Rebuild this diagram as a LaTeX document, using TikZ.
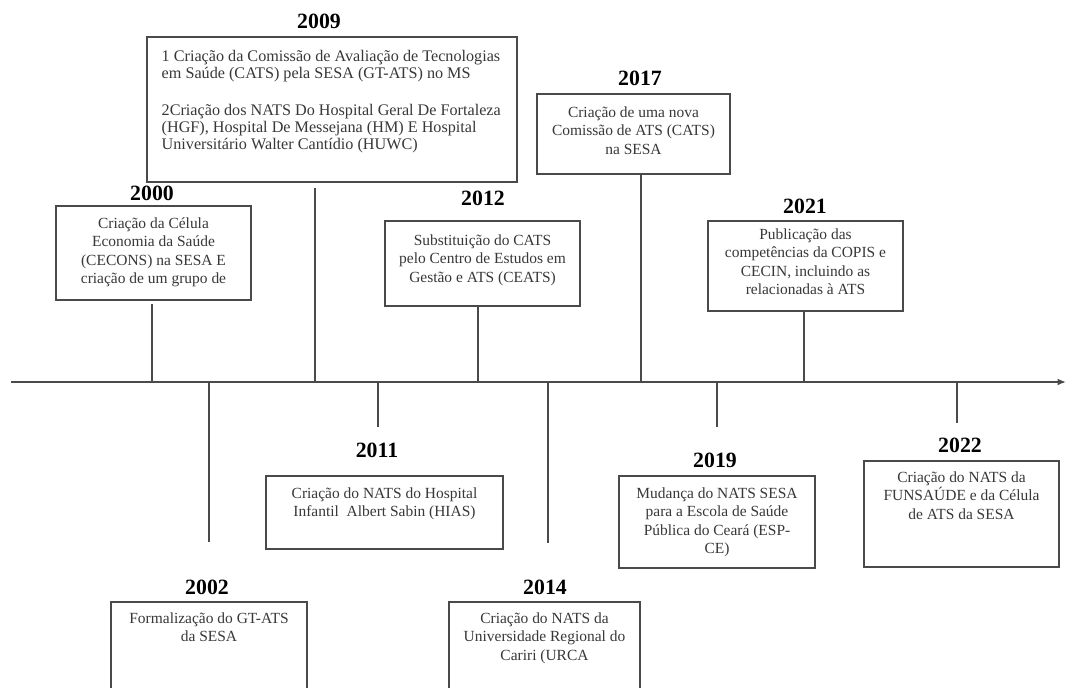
\documentclass[tikz,border=0pt]{standalone}
\usepackage{fontspec}
\setmainfont{Liberation Serif}
\usetikzlibrary{positioning,arrows.meta}

\definecolor{traco}{HTML}{4A4A4A}
\definecolor{letra}{HTML}{383838}
\newcommand\pxu{0.025cm}

\tikzset{caixa/.style={draw=traco,line width=0.8pt,fill=white},
texto/.style={font=\fontsize{11}{13}\selectfont,text=letra,align=#1,inner sep=0pt},
texto/.default={center},
ano/.style={font=\fontsize{15.5}{18}\selectfont\bfseries,inner sep=0pt},
haste/.style={draw=traco,line width=0.8pt},
eixo/.style={draw=traco,line width=1.5pt,-{Latex[length=6pt,width=5pt]}}}

\begin{document}
\begin{tikzpicture}[x=\pxu,y=-\pxu]
\useasboundingbox (0,0) rectangle (1067,688);
\clip (0,0) rectangle (1067,688);

\coordinate (inicio) at (11,382);
\coordinate (fim) at (1066,382);
\draw[eixo] (inicio) -- (fim);

% acima do eixo
\node[caixa, minimum width=195*\pxu, minimum height=94*\pxu] (c2000) at (153.5,253) {};
\node[ano] (a2000) at (152,193) {2000};
\node[texto, below=12*\pxu of c2000.north] (t2000) {Criação da Célula\\Economia da Saúde\\(CECONS) na SESA E\\criação de um grupo de};
\coordinate (h2000) at (152,304);
\draw[haste] (h2000) -- (h2000 |- inicio);

\node[caixa, minimum width=370*\pxu, minimum height=145*\pxu] (c2009) at (332,109.5) {};
\node[ano] (a2009) at (319,21) {2009};
\node[texto=left, font=\fontsize{11.5}{12}\selectfont, below right=14*\pxu and 15*\pxu of c2009.north west] (t2009) {1 Criação da Comissão de Avaliação de Tecnologias\\em Saúde (CATS) pela SESA (GT-ATS) no MS\\[14pt]
	2Criação dos NATS Do Hospital Geral De Fortaleza\\(HGF), Hospital De Messejana (HM) E Hospital\\Universitário Walter Cantídio (HUWC)};
\coordinate (h2009) at (315,188);
\draw[haste] (h2009) -- (h2009 |- inicio);

\node[caixa, minimum width=195*\pxu, minimum height=85*\pxu] (c2012) at (482.5,263.5) {};
\node[ano] (a2012) at (483,198) {2012};
\node[texto, below=14*\pxu of c2012.north] (t2012) {Substituição do CATS\\pelo Centro de Estudos em\\Gestão e ATS (CEATS)};
\coordinate (h2012) at (478,306);
\draw[haste] (h2012) -- (h2012 |- inicio);

\node[caixa, minimum width=193*\pxu, minimum height=80*\pxu] (c2017) at (633.5,134) {};
\node[ano] (a2017) at (640,78) {2017};
\node[texto, below=13*\pxu of c2017.north] (t2017) {Criação de uma nova\\Comissão de ATS (CATS)\\na SESA};
\coordinate (h2017) at (641,174);
\draw[haste] (h2017) -- (h2017 |- inicio);

\node[caixa, minimum width=195*\pxu, minimum height=90*\pxu] (c2021) at (805.5,266) {};
\node[ano] (a2021) at (805,206) {2021};
\node[texto, below=8*\pxu of c2021.north] (t2021) {Publicação das\\competências da COPIS e\\CECIN, incluindo as\\relacionadas à ATS};
\coordinate (h2021) at (804,311);
\draw[haste] (h2021) -- (h2021 |- inicio);

% abaixo do eixo
\node[caixa, minimum width=237*\pxu, minimum height=73*\pxu] (c2011) at (384.5,512.5) {};
\node[ano] (a2011) at (377,450) {2011};
\node[texto, below=12*\pxu of c2011.north] (t2011) {Criação do NATS do Hospital\\Infantil~~Albert Sabin (HIAS)};
\coordinate (h2011) at (378,427);
\draw[haste] (h2011 |- inicio) -- (h2011);

\node[caixa, minimum width=196*\pxu, minimum height=120*\pxu] (c2002) at (209,662) {};
\node[ano] (a2002) at (207,587) {2002};
\node[texto, below=11*\pxu of c2002.north] (t2002) {Formalização do GT-ATS\\da SESA};
\coordinate (h2002) at (209,542);
\draw[haste] (h2002 |- inicio) -- (h2002);

\node[caixa, minimum width=191*\pxu, minimum height=120*\pxu] (c2014) at (544.5,662) {};
\node[ano] (a2014) at (545,587) {2014};
\node[texto, below=11*\pxu of c2014.north] (t2014) {Criação do NATS da\\Universidade Regional do\\Cariri (URCA};
\coordinate (h2014) at (548,543);
\draw[haste] (h2014 |- inicio) -- (h2014);

\node[caixa, minimum width=196*\pxu, minimum height=92*\pxu] (c2019) at (717,522) {};
\node[ano] (a2019) at (715,460) {2019};
\node[texto, below=12*\pxu of c2019.north] (t2019) {Mudança do NATS SESA\\para a Escola de Saúde\\Pública do Ceará (ESP-\\CE)};
\coordinate (h2019) at (717,427);
\draw[haste] (h2019 |- inicio) -- (h2019);

\node[caixa, minimum width=195*\pxu, minimum height=106*\pxu] (c2022) at (961.5,514) {};
\node[ano] (a2022) at (960,445) {2022};
\node[texto, below=11*\pxu of c2022.north] (t2022) {Criação do NATS da\\FUNSAÚDE e da Célula\\de ATS da SESA};
\coordinate (h2022) at (957,423);
\draw[haste] (h2022 |- inicio) -- (h2022);
\end{tikzpicture}
\end{document}
